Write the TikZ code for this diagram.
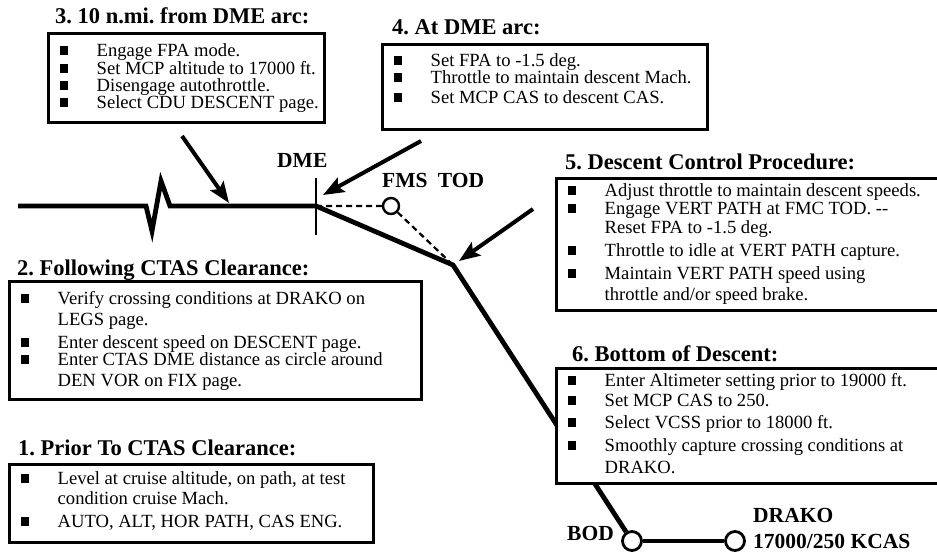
\documentclass[tikz,border=0pt]{standalone}
\usepackage{fontspec}
\setmainfont{Liberation Serif}
\usetikzlibrary{arrows.meta}
\frenchspacing
\tikzset{
 boxst/.style={draw, line width=2.6pt, fill=white, anchor=north west, inner sep=0pt},
 ttl/.style={anchor=base west, inner sep=0pt, font=\fontsize{22.5}{24}\selectfont\bfseries},
 lbl/.style={anchor=base west, inner sep=0pt, font=\fontsize{21.5}{24}\selectfont\bfseries},
 itx/.style={anchor=base west, inner sep=0pt, font=\fontsize{18.6}{20}\selectfont},
 pathln/.style={line width=4.8pt, line join=miter},
 ptr/.style={line width=4pt, -{Stealth[length=21pt, width=16pt, inset=4pt]}},
 dsh/.style={line width=2.2pt, dash pattern=on 6pt off 4pt},
 wpt/.style={circle, draw, line width=2.8pt, fill=white, inner sep=0pt, minimum size=19pt},
 todpt/.style={circle, draw, line width=2.4pt, fill=white, inner sep=0pt, minimum size=16pt},
}
\newcommand\itm[4]{\node[itx] (#1) at (#2+12.5,#3) {\makebox[37pt][l]{\rule[1.2pt]{8.5pt}{8.5pt}}#4};}
\newcommand\cnt[4]{\node[itx] (#1) at (#2+49.5,#3) {#4};}
\begin{document}
\begin{tikzpicture}[x=1pt,y=-1pt]
\useasboundingbox (0,0) rectangle (937,552);
\clip (0,0) rectangle (937,552);
% path points
\coordinate (start) at (18,206);
\coordinate (z1) at (146,206);
\coordinate (z2) at (152,231);
\coordinate (z3) at (161,181);
\coordinate (z4) at (170,206);
\coordinate (dme) at (316,206);
\coordinate (brk) at (453,265);
\coordinate (dmetop) at (316,178);
\coordinate (dmebot) at (316,235);
\node[todpt] (tod) at (391,206) {};
\node[wpt] (bod) at (632,541) {};
\node[wpt] (drako) at (735,541) {};
% flight path
\draw[pathln] (start) -- (z1) -- (z2) -- (z3) -- (z4) -- (dme) -- (brk) -- (bod);
\draw[pathln] (bod) -- (drako);
\draw[line width=2.2pt] (dmetop) -- (dmebot);
\draw[dsh] (dme) -- (tod) -- (brk);
% labels on path
\node[lbl] (dmelbl) at (277,167) {DME};
\node[lbl] (todlbl) at (382,187) {FMS\hspace{5pt} TOD};
\node[lbl] (bodlbl) at (567,540) {BOD};
\node[lbl] (drakolbl) at (753,522) {DRAKO};
\node[lbl] (drakoalt) at (753,548) {17000/250 KCAS};
% arrows
\coordinate (a3s) at (182,136);
\coordinate (a3e) at (229,203);
\coordinate (a4s) at (421,141);
\coordinate (a4e) at (323,195);
\coordinate (a5s) at (533,209);
\coordinate (a5e) at (459,261);
\draw[ptr] (a3s) -- (a3e);
\draw[ptr] (a4s) -- (a4e);
\draw[ptr] (a5s) -- (a5e);
% box 3
\node[ttl] (t3) at (55,23) {3. 10 n.mi. from DME arc:};
\node[boxst, minimum width=276pt, minimum height=89pt] (box3) at (47,32) {};
\itm{b3a}{47}{56}{Engage FPA mode.}
\itm{b3b}{47}{74}{Set MCP altitude to 17000 ft.}
\itm{b3c}{47}{91}{Disengage autothrottle.}
\itm{b3d}{47}{108}{Select CDU DESCENT page.}
% box 4
\node[ttl] (t4) at (392,34) {4. At DME arc:};
\node[boxst, minimum width=325pt, minimum height=85pt] (box4) at (381,43) {};
\itm{b4a}{381}{66}{Set FPA to -1.5 deg.}
\itm{b4b}{381}{83}{Throttle to maintain descent Mach.}
\itm{b4c}{381}{103}{Set MCP CAS to descent CAS.}
% box 5
\node[ttl] (t5) at (565,169) {5. Descent Control Procedure:};
\node[boxst, minimum width=390pt, minimum height=132pt] (box5) at (555,177) {};
\itm{b5a}{555}{196}{Adjust throttle to maintain descent speeds.}
\itm{b5b}{555}{214}{Engage VERT PATH at FMC TOD. -{}-}
\cnt{b5c}{555}{233}{Reset FPA to -1.5 deg.}
\itm{b5d}{555}{256}{Throttle to idle at VERT PATH capture.}
\itm{b5e}{555}{279}{Maintain VERT PATH speed using}
\cnt{b5f}{555}{300}{throttle and/or speed brake.}
% box 6
\node[ttl] (t6) at (572,361) {6. Bottom of Descent:};
\node[boxst, minimum width=390pt, minimum height=115pt] (box6) at (555,367) {};
\itm{b6a}{555}{386}{Enter Altimeter setting prior to 19000 ft.}
\itm{b6b}{555}{406}{Set MCP CAS to 250.}
\itm{b6c}{555}{428}{Select VCSS prior to 18000 ft.}
\itm{b6d}{555}{451}{Smoothly capture crossing conditions at}
\cnt{b6e}{555}{473}{DRAKO.}
% box 2
\node[ttl] (t2) at (17,275) {2. Following CTAS Clearance:};
\node[boxst, minimum width=412pt, minimum height=118pt] (box2) at (8,280) {};
\itm{b2a}{8}{304}{Verify crossing conditions at DRAKO on}
\cnt{b2b}{8}{325}{LEGS page.}
\itm{b2c}{8}{348}{Enter descent speed on DESCENT page.}
\itm{b2d}{8}{365}{Enter CTAS DME distance as circle around}
\cnt{b2e}{8}{386}{DEN VOR on FIX page.}
% box 1
\node[ttl] (t1) at (18,455) {1. Prior To CTAS Clearance:};
\node[boxst, minimum width=364pt, minimum height=78pt] (box1) at (8,463) {};
\itm{b1a}{8}{484}{Level at cruise altitude, on path, at test}
\cnt{b1b}{8}{504}{condition cruise Mach.}
\itm{b1c}{8}{527}{AUTO, ALT, HOR PATH, CAS ENG.}
\end{tikzpicture}
\end{document}
